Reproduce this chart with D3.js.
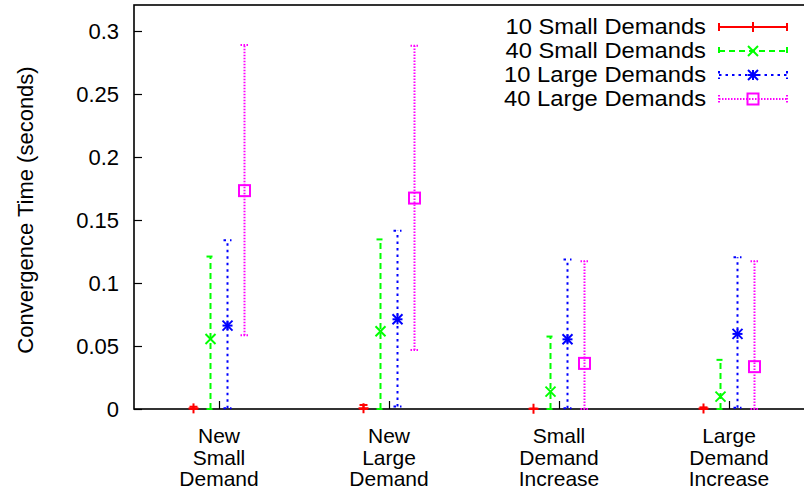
<!DOCTYPE html>
<html>
<head>
<meta charset="utf-8">
<script src="https://cdn.jsdelivr.net/npm/d3@7"></script>
<style>
  html, body { margin: 0; padding: 0; background: #fff; }
  svg { display: block; }
  text { font-family: "Liberation Sans", Arial, Helvetica, sans-serif; fill: #000; }
</style>
</head>
<body>
<svg id="chart" width="804" height="498"></svg>
<script>
// ---- data ----
const categories = [
  ["New", "Small", "Demand"],
  ["New", "Large", "Demand"],
  ["Small", "Demand", "Increase"],
  ["Large", "Demand", "Increase"]
];
const seriesNames = ["10 Small Demands", "40 Small Demands", "10 Large Demands", "40 Large Demands"];

const mean10Small = [0.0005, 0.0006, 0.0002, 0.0004];
const low10Small  = [0, 0, 0, 0];
const high10Small = [0.0018, 0.0032, 0.0003, 0.0013];

const mean40Small = [0.0556, 0.0617, 0.0138, 0.0098];
const low40Small  = [0, 0, 0, 0];
const high40Small = [0.121, 0.1346, 0.0575, 0.039];

const mean10Large = [0.0662, 0.0712, 0.0553, 0.0596];
const low10Large  = [0.0005, 0.002, 0.0005, 0.001];
const high10Large = [0.134, 0.1415, 0.1187, 0.1205];

const mean40Large = [0.1733, 0.1674, 0.0362, 0.0336];
const low40Large  = [0.0585, 0.0469, 0, 0];
const high40Large = [0.2888, 0.2882, 0.1173, 0.1173];

const yTicks = [0, 0.05, 0.1, 0.15, 0.2, 0.25, 0.3];
const yTickLabels = ["0", "0.05", "0.1", "0.15", "0.2", "0.25", "0.3"];
const yTitle = "Convergence Time (seconds)";

// ---- styles ----
const styles = [
  { color: "#ff0000", dash: null,      marker: "plus" },
  { color: "#00ff00", dash: "6,4",     marker: "cross" },
  { color: "#0000ff", dash: "2.5,4",   marker: "star" },
  { color: "#ff00ff", dash: "1.5,1.5", marker: "square" }
];
const offsets = [-0.15, -0.05, 0.05, 0.15];

const series = [
  { mean: mean10Small, low: low10Small, high: high10Small },
  { mean: mean40Small, low: low40Small, high: high40Small },
  { mean: mean10Large, low: low10Large, high: high10Large },
  { mean: mean40Large, low: low40Large, high: high40Large }
];

const svg = d3.select("#chart");
const L = 134, R = 814, T = 5, B = 409;

const x = d3.scaleLinear().domain([-0.5, 3.5]).range([L, R]);
const y = d3.scaleLinear().domain([0, 0.32]).range([B, B - 0.32 * 1260]);

// y axis
const yAxis = d3.axisLeft(y).tickValues(yTicks)
  .tickFormat((d, i) => yTickLabels[i]).tickSize(-8).tickPadding(15);
const gy = svg.append("g").attr("transform", `translate(${L},0)`).call(yAxis);
gy.select(".domain").remove();
gy.selectAll(".tick line").attr("stroke", "#000").attr("stroke-width", 1.2);
gy.selectAll(".tick text").attr("font-size", 22).attr("font-family", null).attr("fill", "#000");

// x axis ticks
const xAxis = d3.axisBottom(x).tickValues(d3.range(categories.length))
  .tickFormat("").tickSize(-8);
const gx = svg.append("g").attr("transform", `translate(0,${B})`).call(xAxis);
gx.select(".domain").remove();
gx.selectAll(".tick line").attr("stroke", "#000").attr("stroke-width", 1.2);

// x labels
categories.forEach((lines, i) => {
  const t = svg.append("text").attr("text-anchor", "middle").attr("font-size", 21);
  lines.forEach((ln, j) => {
    t.append("tspan").attr("x", x(i)).attr("y", 443 + j * 21.7).text(ln);
  });
});

// y title
svg.append("text")
  .attr("transform", `translate(33,${(T + B) / 2 + 3}) rotate(-90)`)
  .attr("text-anchor", "middle")
  .attr("font-size", 22)
  .text(yTitle);

// frame
svg.append("rect").attr("x", L).attr("y", T).attr("width", R - L).attr("height", B - T)
  .attr("fill", "none").attr("stroke", "#000").attr("stroke-width", 1.6);

function marker(g, type, cx, cy, color) {
  const s = 5;
  const p = g.append("g").attr("stroke", color).attr("stroke-width", 2).attr("fill", "none");
  if (type === "plus" || type === "star") {
    p.append("line").attr("x1", cx - s).attr("x2", cx + s).attr("y1", cy).attr("y2", cy);
    p.append("line").attr("x1", cx).attr("x2", cx).attr("y1", cy - s).attr("y2", cy + s);
  }
  if (type === "cross" || type === "star") {
    p.append("line").attr("x1", cx - s).attr("x2", cx + s).attr("y1", cy - s).attr("y2", cy + s);
    p.append("line").attr("x1", cx - s).attr("x2", cx + s).attr("y1", cy + s).attr("y2", cy - s);
  }
  if (type === "square") {
    p.append("rect").attr("x", cx - 5.5).attr("y", cy - 5.5).attr("width", 11).attr("height", 11);
  }
}

// error bars + points
const capW = 4;
series.forEach((s, si) => {
  const st = styles[si];
  const g = svg.append("g");
  s.mean.forEach((m, ci) => {
    const cx = x(ci + offsets[si]);
    const eg = g.append("g").attr("stroke", st.color).attr("stroke-width", 2)
      .attr("stroke-dasharray", st.dash);
    eg.append("line").attr("x1", cx).attr("x2", cx).attr("y1", y(s.low[ci])).attr("y2", y(s.high[ci]));
    eg.append("line").attr("x1", cx - capW).attr("x2", cx + capW).attr("y1", y(s.low[ci])).attr("y2", y(s.low[ci]));
    eg.append("line").attr("x1", cx - capW).attr("x2", cx + capW).attr("y1", y(s.high[ci])).attr("y2", y(s.high[ci]));
    marker(g, st.marker, cx, y(m), st.color);
  });
});

// legend
const legRows = [27, 51, 75, 99];
seriesNames.forEach((name, i) => {
  const st = styles[i];
  const yy = legRows[i];
  svg.append("text").attr("transform", `translate(706,${yy}) scale(1.11,1)`)
    .attr("dy", "0.35em")
    .attr("text-anchor", "end").attr("font-size", 21.4).text(name);
  const g = svg.append("g").attr("stroke", st.color).attr("stroke-width", 2)
    .attr("stroke-dasharray", st.dash);
  g.append("line").attr("x1", 719).attr("x2", 787).attr("y1", yy).attr("y2", yy);
  g.append("line").attr("x1", 719).attr("x2", 719).attr("y1", yy - 4).attr("y2", yy + 4);
  g.append("line").attr("x1", 787).attr("x2", 787).attr("y1", yy - 4).attr("y2", yy + 4);
  marker(svg, st.marker, 753, yy, st.color);
});
</script>
</body>
</html>
